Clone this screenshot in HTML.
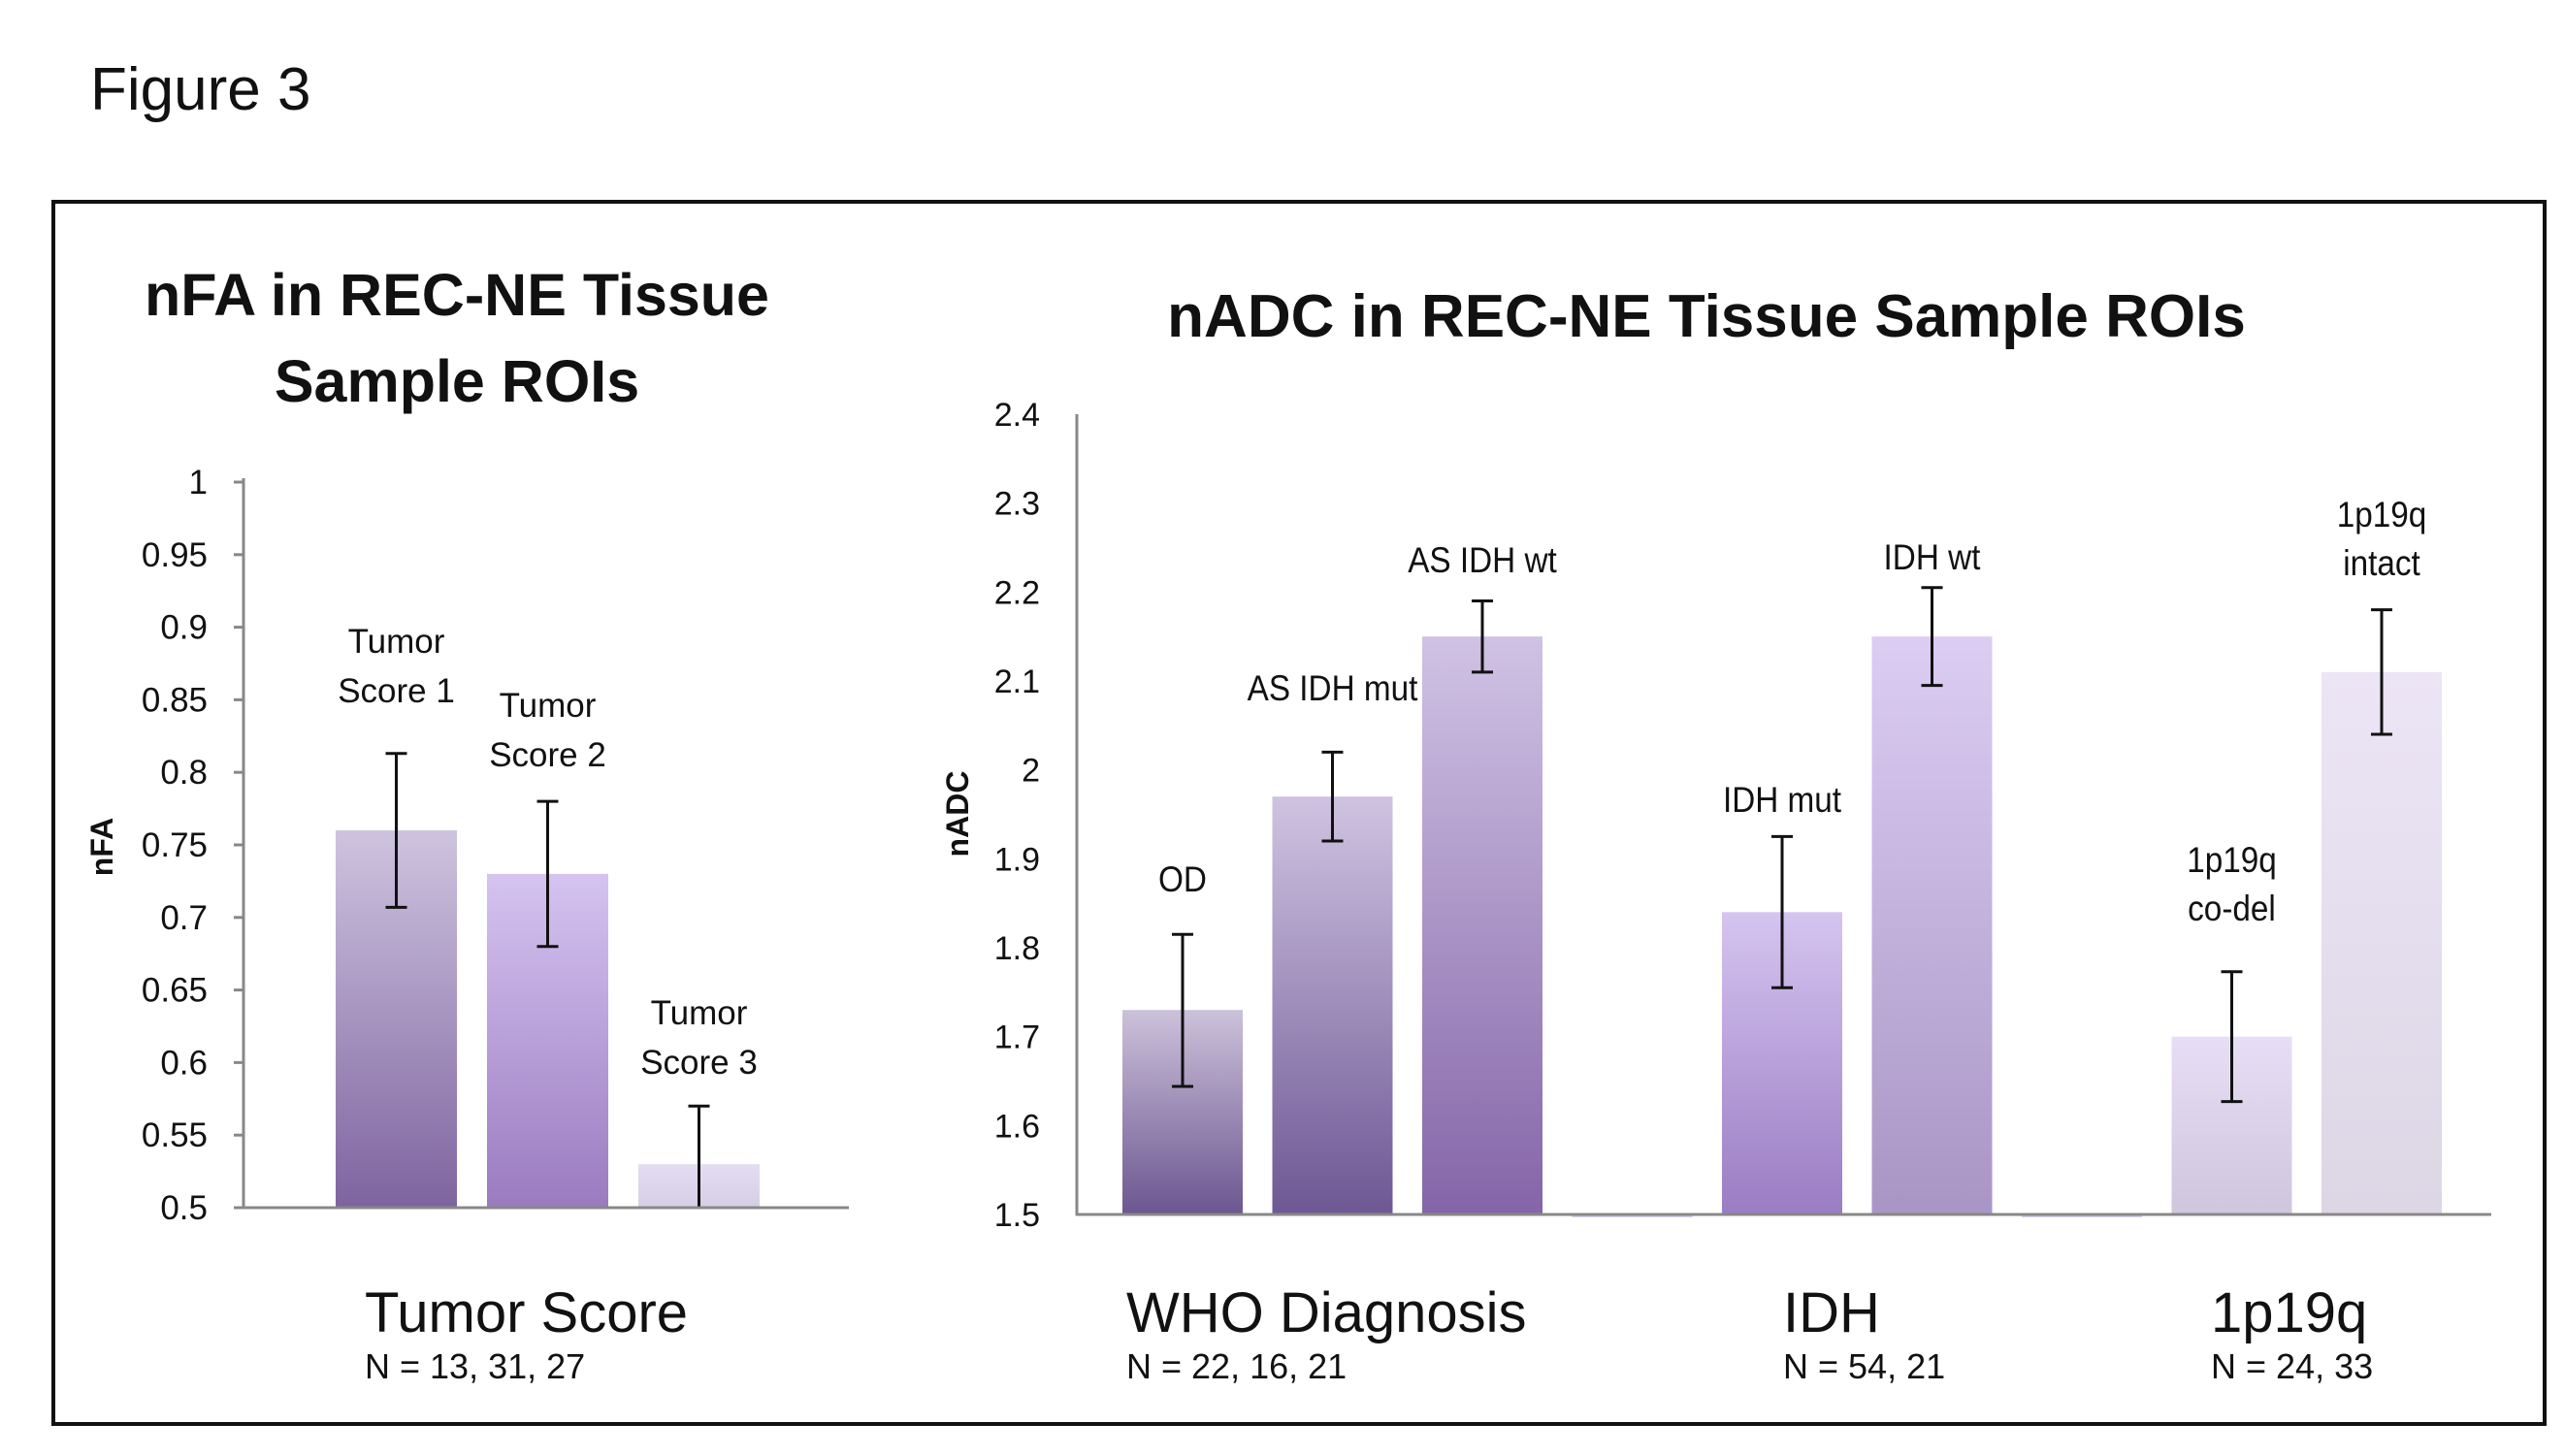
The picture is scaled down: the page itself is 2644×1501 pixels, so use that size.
<!DOCTYPE html>
<html><head><meta charset="utf-8"><style>
html,body{margin:0;padding:0;background:#fff;}
svg{display:block;font-family:"Liberation Sans",sans-serif;}
</style></head><body>
<svg id="fig" width="2644" height="1501" viewBox="0 0 2644 1501" xmlns="http://www.w3.org/2000/svg">
<defs>
<linearGradient id="gTS1" x1="0" y1="0" x2="0" y2="1"><stop offset="0" stop-color="#cec3df"/><stop offset="1" stop-color="#7e649f"/></linearGradient>
<linearGradient id="gTS2" x1="0" y1="0" x2="0" y2="1"><stop offset="0" stop-color="#d5c3f0"/><stop offset="1" stop-color="#9a7bc0"/></linearGradient>
<linearGradient id="gTS3" x1="0" y1="0" x2="0" y2="1"><stop offset="0" stop-color="#e4ddf2"/><stop offset="1" stop-color="#d6cee4"/></linearGradient>
<linearGradient id="gOD" x1="0" y1="0" x2="0" y2="1"><stop offset="0" stop-color="#ccc1da"/><stop offset="1" stop-color="#6c5690"/></linearGradient>
<linearGradient id="gASM" x1="0" y1="0" x2="0" y2="1"><stop offset="0" stop-color="#cfc3e1"/><stop offset="1" stop-color="#6e5794"/></linearGradient>
<linearGradient id="gASW" x1="0" y1="0" x2="0" y2="1"><stop offset="0" stop-color="#d0c2e4"/><stop offset="1" stop-color="#8465a8"/></linearGradient>
<linearGradient id="gIM" x1="0" y1="0" x2="0" y2="1"><stop offset="0" stop-color="#d5c4f0"/><stop offset="1" stop-color="#9a7cc3"/></linearGradient>
<linearGradient id="gIW" x1="0" y1="0" x2="0" y2="1"><stop offset="0" stop-color="#dccdf3"/><stop offset="1" stop-color="#a995c5"/></linearGradient>
<linearGradient id="gCD" x1="0" y1="0" x2="0" y2="1"><stop offset="0" stop-color="#e7def6"/><stop offset="1" stop-color="#cfc6dd"/></linearGradient>
<linearGradient id="gIN" x1="0" y1="0" x2="0" y2="1"><stop offset="0" stop-color="#ece5f6"/><stop offset="1" stop-color="#dcd6e5"/></linearGradient>
</defs>
<text x="93" y="113" font-family="Liberation Sans, sans-serif" font-size="62" fill="#111">Figure 3</text>
<rect x="55" y="208" width="2568" height="1260" fill="none" stroke="#111" stroke-width="4"/>
<g id="left"></g>
<g id="right"></g>
</svg>
<script>
// ---- nFA chart data ----
const nfaCategories = ["Tumor Score 1","Tumor Score 2","Tumor Score 3"];
const nfaValues = [0.76, 0.73, 0.53];
const nfaErrLow = [0.707, 0.68, 0.50];
const nfaErrHigh = [0.813, 0.78, 0.57];
const nfaTicks = [0.5,0.55,0.6,0.65,0.7,0.75,0.8,0.85,0.9,0.95,1];
const nfaTickLabels = ["0.5","0.55","0.6","0.65","0.7","0.75","0.8","0.85","0.9","0.95","1"];
// ---- nADC chart data ----
const nadcCategories = ["OD","AS IDH mut","AS IDH wt","","IDH mut","IDH wt","","1p19q co-del","1p19q intact"];
const nadcValues = [1.73, 1.97, 2.15, null, 1.84, 2.15, null, 1.70, 2.11];
const nadcErrLow = [1.644, 1.92, 2.11, null, 1.755, 2.095, null, 1.627, 2.04];
const nadcErrHigh = [1.815, 2.02, 2.19, null, 1.925, 2.205, null, 1.773, 2.18];
const nadcTicks = [1.5,1.6,1.7,1.8,1.9,2.0,2.1,2.2,2.3,2.4];
const nadcTickLabels = ["1.5","1.6","1.7","1.8","1.9","2","2.1","2.2","2.3","2.4"];

// layout: label baselines (last line) per bar
const nfaLabelBase = [724, 790, 1107];
const nadcLabelBase = [919, 722, 590, 0, 837, 587, 0, 949, 593];

const NS="http://www.w3.org/2000/svg";
function mk(parent,tag,attrs,text){const e=document.createElementNS(NS,tag);for(const k in attrs)e.setAttribute(k,attrs[k]);if(text!==undefined)e.textContent=text;parent.appendChild(e);return e;}

// ===== Left chart =====
(function(){
  const g=document.getElementById('left');
  const x0=251,x1=875,yTop=497,yBot=1245,vmin=0.5,vmax=1;
  const y=v=>yBot-(v-vmin)/(vmax-vmin)*(yBot-yTop);
  const slot=156,barW=125,start=346;
  const xb=i=>start+i*slot;
  const fills=["url(#gTS1)","url(#gTS2)","url(#gTS3)"];
  const lbls=[["Tumor","Score 1"],["Tumor","Score 2"],["Tumor","Score 3"]];
  nfaTicks.forEach((t,i)=>{
    const tk=mk(g,'line',{x1:x0-10,x2:x0,y1:y(t),y2:y(t),stroke:'#888','stroke-width':3});
    
    
    const tl=mk(g,'text',{x:214,y:y(t)+12,'text-anchor':'end','font-size':35,fill:'#111'},nfaTickLabels[i]);
    
    
  });
  nfaValues.forEach((v,i)=>{
    const b=mk(g,'rect',{x:xb(i),y:y(v),width:barW,height:yBot-y(v),fill:fills[i]});
    
    
    const cx=xb(i)+barW/2;
    const eb=mk(g,'path',{d:`M${cx} ${y(nfaErrHigh[i])}V${y(nfaErrLow[i])}M${cx-11} ${y(nfaErrHigh[i])}H${cx+11}M${cx-11} ${y(nfaErrLow[i])}H${cx+11}`,stroke:'#111','stroke-width':3,fill:'none'});
    
    
    const ly=nfaLabelBase[i];
    const t=mk(g,'text',{x:cx,y:0,'text-anchor':'middle','font-size':35,fill:'#111'});
    
    
    mk(t,'tspan',{x:cx,y:ly-51},lbls[i][0]);
    mk(t,'tspan',{x:cx,y:ly},lbls[i][1]);
  });
  const ax=mk(g,'path',{d:`M${x0} ${yTop-4}V${yBot}H${x1}`,stroke:'#888','stroke-width':3,fill:'none'});
  
  
  const t1=mk(g,'text',{x:471,y:325,'text-anchor':'middle','font-size':61,'font-weight':'bold',fill:'#111'},'nFA in REC-NE Tissue');
  
  
  const t2=mk(g,'text',{x:471,y:414,'text-anchor':'middle','font-size':61,'font-weight':'bold',fill:'#111'},'Sample ROIs');
  
  
  const yl=mk(g,'text',{x:0,y:0,'text-anchor':'middle','font-size':32,'font-weight':'bold',fill:'#111',transform:'translate(116 873) rotate(-90)'},'nFA');
  
  
  const xl=mk(g,'text',{x:376,y:1373,'font-size':58,fill:'#111'},'Tumor Score');
  
  
  const nl=mk(g,'text',{x:376,y:1421,'font-size':36,fill:'#111'},'N = 13, 31, 27');
  
  
})();

// ===== Right chart =====
(function(){
  const g=document.getElementById('right');
  const x0=1110,x1=2568,yTop=427,yBot=1252,vmin=1.5,vmax=2.4;
  const y=v=>yBot-(v-vmin)/(vmax-vmin)*(yBot-yTop);
  const slot=154.5,barW=124,start=1157;
  const xb=i=>start+i*slot;
  const fills=["url(#gOD)","url(#gASM)","url(#gASW)","","url(#gIM)","url(#gIW)","","url(#gCD)","url(#gIN)"];
  nadcTicks.forEach((t,i)=>{
    const tl=mk(g,'text',{x:1072,y:y(t)+12,'text-anchor':'end','font-size':34,fill:'#111'},nadcTickLabels[i]);
    
    
  });
  nadcValues.forEach((v,i)=>{
    if(v===null){
      const gp=mk(g,'rect',{x:xb(i),y:yBot,width:barW,height:3,fill:'#d9cfee'});
      
      
      return;
    }
    const b=mk(g,'rect',{x:xb(i),y:y(v),width:barW,height:yBot-y(v),fill:fills[i]});
    
    
    const cx=xb(i)+barW/2;
    const eb=mk(g,'path',{d:`M${cx} ${y(nadcErrHigh[i])}V${y(nadcErrLow[i])}M${cx-11} ${y(nadcErrHigh[i])}H${cx+11}M${cx-11} ${y(nadcErrLow[i])}H${cx+11}`,stroke:'#111','stroke-width':3,fill:'none'});
    
    
    const name=nadcCategories[i];
    const ly=nadcLabelBase[i];
    const t=mk(g,'text',{x:cx,y:0,'text-anchor':'middle','font-size':37,fill:'#111',transform:`translate(${cx} 0) scale(0.9 1) translate(${-cx} 0)`});
    
    
    if(name.startsWith('1p19q ')){
      mk(t,'tspan',{x:cx,y:ly-50},'1p19q');
      mk(t,'tspan',{x:cx,y:ly},name.slice(6));
    } else {
      mk(t,'tspan',{x:cx,y:ly},name);
    }
  });
  const ax=mk(g,'path',{d:`M${x0} ${yTop}V${yBot}H${x1}`,stroke:'#888','stroke-width':3,fill:'none'});
  
  
  const tt=mk(g,'text',{x:1759,y:347,'text-anchor':'middle','font-size':62,'font-weight':'bold',fill:'#111'},'nADC in REC-NE Tissue Sample ROIs');
  
  
  const yl=mk(g,'text',{x:0,y:0,'text-anchor':'middle','font-size':32,'font-weight':'bold',fill:'#111',transform:'translate(998 839) rotate(-90)'},'nADC');
  
  
  const groups=[["WHO Diagnosis","N = 22, 16, 21",1161],["IDH","N = 54, 21",1838],["1p19q","N = 24, 33",2279]];
  groups.forEach(gr=>{
    const a=mk(g,'text',{x:gr[2],y:1373,'font-size':58,fill:'#111'},gr[0]);
    
    
    const b=mk(g,'text',{x:gr[2],y:1421,'font-size':36,fill:'#111'},gr[1]);
    
    
  });
})();
</script>
</body></html>
